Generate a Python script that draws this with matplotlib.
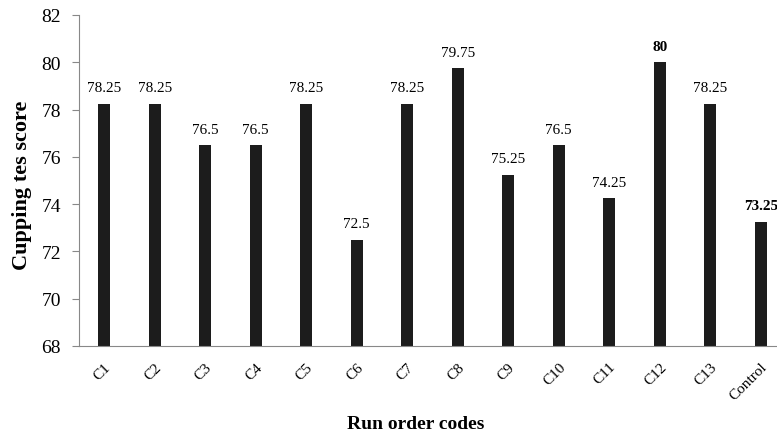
import matplotlib.pyplot as plt

codes = ['C1', 'C2', 'C3', 'C4', 'C5', 'C6', 'C7', 'C8', 'C9', 'C10', 'C11', 'C12', 'C13', 'Control']
scores = [78.25, 78.25, 76.5, 76.5, 78.25, 72.5, 78.25, 79.75, 75.25, 76.5, 74.25, 80, 78.25, 73.25]
labels = ['78.25', '78.25', '76.5', '76.5', '78.25', '72.5', '78.25', '79.75', '75.25', '76.5', '74.25', '80', '78.25', '73.25']
bold_labels = ['C12', 'Control']

plt.rcParams['font.family'] = ['Liberation Serif', 'DejaVu Serif']

fig = plt.figure(figsize=(7.77, 4.39), dpi=100)
# axes runs past the right edge, like the cropped original
ax = fig.add_axes([79 / 777, 1 - 347 / 439, 707 / 777, 331 / 439])

x = list(range(len(codes)))
ax.bar(x, [s - 68 for s in scores], bottom=68, width=0.24, color='#1c1c1c')

for i, (s, lab) in enumerate(zip(scores, labels)):
    weight = 'bold' if codes[i] in bold_labels else 'normal'
    ax.text(i, s + 0.4, lab, ha='center', va='bottom', fontsize=11, fontweight=weight)

ax.set_xlim(-0.5, len(codes) - 0.5)
ax.set_ylim(68, 82)
ax.set_yticks(range(68, 83, 2))
ax.tick_params(axis='y', labelsize=14, length=5, color='#888888', pad=8)
ax.set_xticks(x)
ax.set_xticklabels(codes, rotation=45, ha='right', rotation_mode='anchor', fontsize=11)
ax.tick_params(axis='x', length=0, pad=10)

for sp in ['top', 'right']:
    ax.spines[sp].set_visible(False)
for sp in ['left', 'bottom']:
    ax.spines[sp].set_color('#888888')

fig.text(22 / 777, 1 - 185 / 439, 'Cupping tes score', rotation=90, ha='center', va='center',
         fontsize=16, fontweight='bold')
fig.text(416 / 777, 1 - 425 / 439, 'Run order codes', ha='center', va='center', fontsize=14, fontweight='bold')

fig.savefig('out.png', dpi=100)
